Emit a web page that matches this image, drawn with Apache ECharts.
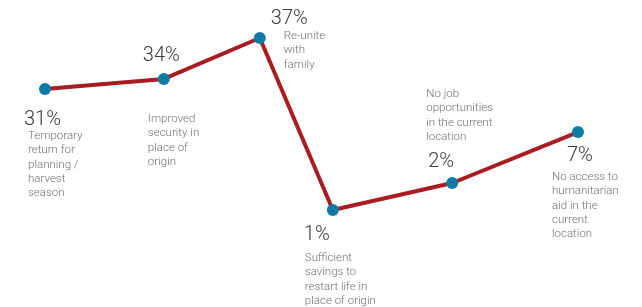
<!DOCTYPE html>
<html>
<head>
<meta charset="utf-8">
<script src="https://cdn.jsdelivr.net/npm/echarts@6/dist/echarts.min.js"></script>
<style>
  html, body { margin: 0; padding: 0; background: #fff; }
  #chart { width: 642px; height: 307px; }
</style>
</head>
<body>
<div id="chart"></div>
<script>
// reasons and their shares
const reasons = [
  'Temporary\nreturn for\nplanning /\nharvest\nseason',
  'Improved\nsecurity in\nplace of\norigin',
  'Re-unite\nwith\nfamily',
  'Sufficient\nsavings to\nrestart life in\nplace of origin',
  'No job\nopportunities\nin the current\nlocation',
  'No access to\nhumanitarian\naid in the\ncurrent\nlocation'
]
const shares = [31, 34, 37, 1, 2, 7]

// where each point sits in the infographic (hidden 0-100 scales)
const xLevel = [0, 22.3, 40.3, 54, 76.4, 100]
const yLevel = [70.3, 76.2, 100, 0, 15.7, 45.3]

// label placement per point, relative to the marker box
const pctPos = [[-15, 26], [-15, -28], [17, -24], [-23, 20], [-18, -26], [-5, 19]]
const descPos = [[-11, 46], [-10, 39], [30, -3], [-22, 47], [-20, -90], [-20, 44]]

const points = xLevel.map((x, i) => [x, yLevel[i]])

const myChart = echarts.init(document.getElementById('chart'))
const option = {
  animation: false,
  grid: { left: 45, right: 64, top: 38, bottom: 97 },
  xAxis: { type: 'value', min: 0, max: 100, show: false },
  yAxis: { type: 'value', min: 0, max: 100, show: false },
  series: [
    {
      type: 'line',
      data: points.map((p, i) => ({
        value: p,
        label: { position: pctPos[i] }
      })),
      lineStyle: { color: '#a81c22', width: 4 },
      symbol: 'circle',
      symbolSize: 12,
      itemStyle: { color: '#0e7aa6' },
      z: 3,
      label: {
        show: true,
        formatter: (p) => shares[p.dataIndex] + '%',
        fontFamily: 'Roboto',
        fontWeight: 300,
        fontSize: 20,
        lineHeight: 22,
        color: '#3a3a3a'
      }
    },
    {
      type: 'scatter',
      data: points.map((p, i) => ({
        value: p,
        label: { position: descPos[i] }
      })),
      symbol: 'circle',
      symbolSize: 12,
      itemStyle: { color: 'transparent' },
      silent: true,
      z: 2,
      label: {
        show: true,
        formatter: (p) => reasons[p.dataIndex],
        fontFamily: 'Roboto',
        fontWeight: 300,
        fontSize: 11.5,
        lineHeight: 14.3,
        color: '#4a4a4a'
      }
    }
  ]
}
myChart.setOption(option)
</script>
</body>
</html>
